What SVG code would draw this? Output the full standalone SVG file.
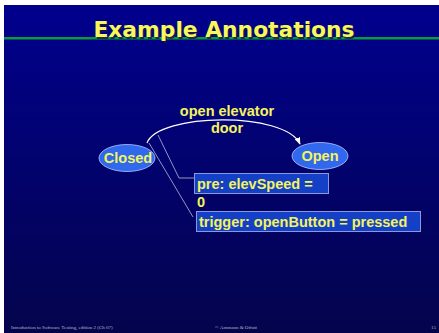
<svg xmlns="http://www.w3.org/2000/svg" width="439" height="333" viewBox="0 0 439 333">
<style>
.lbl{font-family:"Liberation Sans",Arial,sans-serif;font-weight:bold;font-size:14.5px;fill:#f4f45c}
.title{font-family:"DejaVu Sans",Verdana,sans-serif;font-weight:bold;font-size:21.8px}
.state{fill:#3068ee;stroke:#b8c8ff;stroke-width:0.8}
.note{fill:#1440c8;stroke:#8c98d8;stroke-width:1}
.conn{fill:none;stroke:#ffffff;stroke-width:1.2}
.ann{fill:none;stroke:#b8bcd8;stroke-width:0.8}
.foot{font-family:"Liberation Serif",serif;font-size:5px;fill:#b8b8c8}
</style>
<defs>
<linearGradient id="bg" x1="0" y1="0" x2="0" y2="1">
<stop offset="0" stop-color="#00008e"/>
<stop offset="1" stop-color="#04044c"/>
</linearGradient>
<marker id="arr" viewBox="0 0 10 10" refX="9" refY="5" markerWidth="6" markerHeight="6" orient="auto">
<path d="M0,1 L10,5 L0,9 z" fill="#ffffff"/>
</marker>
</defs>
<rect width="439" height="333" fill="#ffffff"/>
<rect x="4" y="5" width="435" height="328" fill="url(#bg)"/>
<rect x="4" y="37" width="435" height="2.5" fill="#0a9a3a"/>
<text class="title" x="224" y="37" text-anchor="middle" fill="#1a1a40" opacity="0.8" transform="translate(1.5,1.5)">Example Annotations</text>
<text class="title" x="224" y="37" text-anchor="middle" fill="#f8f85a">Example Annotations</text>
<g id="connectors">
<path class="conn" d="M147,143 C158,113 285,111 300,144" marker-end="url(#arr)"/>
<text class="lbl" x="227" y="116" text-anchor="middle">open elevator</text>
<text class="lbl" x="227" y="133" text-anchor="middle">door</text>
<polyline class="ann" points="158,135 179,178 195,178"/>
<line class="ann" x1="149" y1="143" x2="193" y2="217"/>
</g>
<g id="closed">
<ellipse class="state" cx="127" cy="158" rx="28" ry="13.5"/>
<text class="lbl" x="128" y="163" text-anchor="middle">Closed</text>
</g>
<g id="open">
<ellipse class="state" cx="320" cy="156" rx="28" ry="13.5"/>
<text class="lbl" x="320" y="161" text-anchor="middle">Open</text>
</g>
<g id="pre">
<rect class="note" x="194.5" y="173.5" width="134" height="20"/>
<text class="lbl" x="197" y="189">pre: elevSpeed =</text>
<text class="lbl" x="197" y="207">0</text>
</g>
<g id="trigger">
<rect class="note" x="196.5" y="211.5" width="224" height="20"/>
<text class="lbl" x="199" y="227">trigger: openButton = pressed</text>
</g>
<text class="foot" x="11" y="329">Introduction to Software Testing, edition 2  (Ch 07)</text>
<text class="foot" x="236" y="329" text-anchor="middle">© Ammann &amp; Offutt</text>
<text class="foot" x="436" y="329" text-anchor="end">15</text>
</svg>
